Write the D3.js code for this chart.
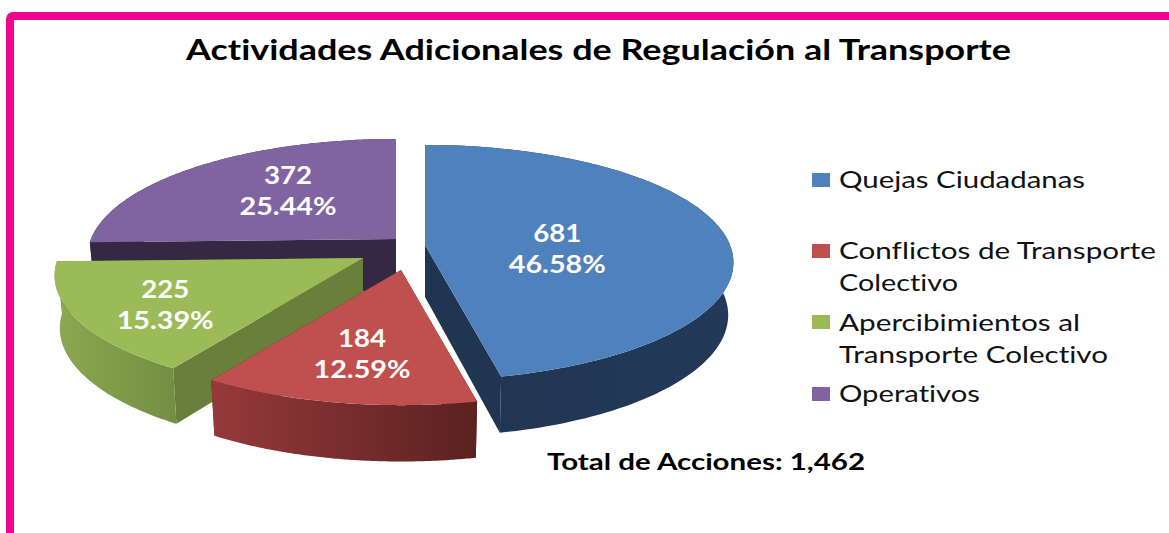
<!DOCTYPE html>
<html>
<head>
<meta charset="utf-8">
<script src="https://cdn.jsdelivr.net/npm/d3@7"></script>
<style>
html,body{margin:0;padding:0;background:#fff;overflow:hidden}
svg{display:block}
text{font-family:Lato,"Open Sans",sans-serif;font-variant-ligatures:none}
</style>
</head>
<body>
<script>
const titleText = "Actividades Adicionales de Regulación al Transporte";
const categories = ["Quejas Ciudadanas", "Conflictos de Transporte Colectivo", "Apercibimientos al Transporte Colectivo", "Operativos"];
const values = [681, 184, 225, 372];
const legendLines = [["Quejas Ciudadanas"], ["Conflictos de Transporte", "Colectivo"], ["Apercibimientos al", "Transporte Colectivo"], ["Operativos"]];
const topColors = ["#4F81BD", "#C0504D", "#9BBB59", "#8064A2"];
const cutColors = ["#1F3550", "#5E2422", "#6A7F3C", "#342844"];
const wallStops = [["#1F3550", "#23395A"], ["#96393A", "#5A2220"], ["#8CA850", "#748F42"], ["#342844", "#342844"]];

// layout
const W = 1169, H = 533;
const base = [391, 250], explode = [[34, -5], [10, 20], [-28, 8], [5, -11]];
const labelRadius = [0.44, 0.67, 0.70, 0.55];
const labelNudge = [[1, 9], [4, -5], [3, 5], [1, -8]];
const Rx = 305, Ry = 115, persp = 0.149, depth0 = 52, shrink = 0.983;

const svg = d3.select("body").append("svg").attr("width", W).attr("height", H);
const defs = svg.append("defs");

// frame
svg.append("rect").attr("x", 10).attr("y", 16).attr("width", W + 40).attr("height", H + 40)
  .attr("rx", 3).attr("fill", "none").attr("stroke", "#F0058B").attr("stroke-width", 8);

// perspective projection of a disc point
const scaleOf = t => 1 / (1 + persp * Math.cos(t));
function proj(i, t, r, low) {
  const s = scaleOf(t);
  const k = low ? shrink : 1;
  return [
    base[0] + explode[i][0] + Rx * Math.sin(t) * s * r * k,
    base[1] + explode[i][1] - Ry * Math.cos(t) * s * r + (low ? depth0 * Math.sqrt(r === 0 ? 1 : s) : 0)
  ];
}
const pie = d3.pie().sort(null).value(d => d);
const arcs = pie(values);
const line = d3.line();
const thetas = a => d3.range(0, 121).map(j => a.startAngle + (a.endAngle - a.startAngle) * j / 120);

const order = [3, 2, 1, 0];
order.forEach(i => {
  const a = arcs[i];
  const g = svg.append("g");
  const ts = thetas(a);
  const minX = d3.min(ts, t => proj(i, t, 1, false)[0]);
  const maxX = d3.max(ts, t => proj(i, t, 1, false)[0]);
  const grad = defs.append("linearGradient").attr("id", "wall" + i)
    .attr("gradientUnits", "userSpaceOnUse").attr("x1", minX).attr("x2", maxX).attr("y1", 0).attr("y2", 0);
  grad.append("stop").attr("offset", 0).attr("stop-color", wallStops[i][0]);
  grad.append("stop").attr("offset", 1).attr("stop-color", wallStops[i][1]);

  [a.startAngle, a.endAngle].forEach(t => {
    g.append("path").attr("fill", cutColors[i])
      .attr("d", line([proj(i, t, 0, false), proj(i, t, 1, false), proj(i, t, 1, true), proj(i, t, 0, true)]) + "Z");
  });
  const wall = d3.pairs(ts).map(([t0, t1]) =>
    line([proj(i, t0, 1, false), proj(i, t1, 1, false), proj(i, t1, 1, true), proj(i, t0, 1, true)]) + "Z").join("");
  g.append("path").attr("fill", `url(#wall${i})`).attr("d", wall);
  const top = [proj(i, 0, 0, false)].concat(ts.map(t => proj(i, t, 1, false)));
  g.append("path").attr("fill", topColors[i]).attr("d", line(top) + "Z");
});

// value labels
const total = d3.sum(values);
const pct = d3.format(".2%");
arcs.forEach((a, i) => {
  const p = proj(i, (a.startAngle + a.endAngle) / 2, labelRadius[i], false);
  const x = p[0] + labelNudge[i][0], y = p[1] + labelNudge[i][1];
  svg.append("text").attr("x", x).attr("y", y - 7).attr("text-anchor", "middle")
    .attr("font-size", 25).attr("font-weight", 700).attr("fill", "#fff")
    .attr("textLength", 48).attr("lengthAdjust", "spacingAndGlyphs").text(values[i]);
  svg.append("text").attr("x", x).attr("y", y + 24).attr("text-anchor", "middle")
    .attr("font-size", 25).attr("font-weight", 700).attr("fill", "#fff")
    .attr("textLength", 97).attr("lengthAdjust", "spacingAndGlyphs").text(pct(values[i] / total));
});

// title
svg.append("text").attr("x", 186).attr("y", 60).attr("font-size", 28).attr("font-weight", 700).attr("fill", "#000")
  .attr("textLength", 825).attr("lengthAdjust", "spacingAndGlyphs").text(titleText);

// legend
const swatchY = [173, 244, 315, 387];
const baselines = [[188], [259, 291], [331, 363], [402]];
const lineWidths = [[246], [317, 119], [241, 269], [141]];
legendLines.forEach((ls, i) => {
  svg.append("rect").attr("x", 812).attr("y", swatchY[i]).attr("width", 18).attr("height", 14).attr("fill", topColors[i]);
  ls.forEach((t, j) => {
    svg.append("text").attr("x", 839).attr("y", baselines[i][j]).attr("font-size", 24).attr("fill", "#111")
      .attr("textLength", lineWidths[i][j]).attr("lengthAdjust", "spacingAndGlyphs").text(t);
  });
});

// total
svg.append("text").attr("x", 547).attr("y", 470).attr("font-size", 23).attr("font-weight", 700).attr("fill", "#000")
  .attr("textLength", 318).attr("lengthAdjust", "spacingAndGlyphs").text("Total de Acciones: " + d3.format(",")(total));
</script>
</body>
</html>
